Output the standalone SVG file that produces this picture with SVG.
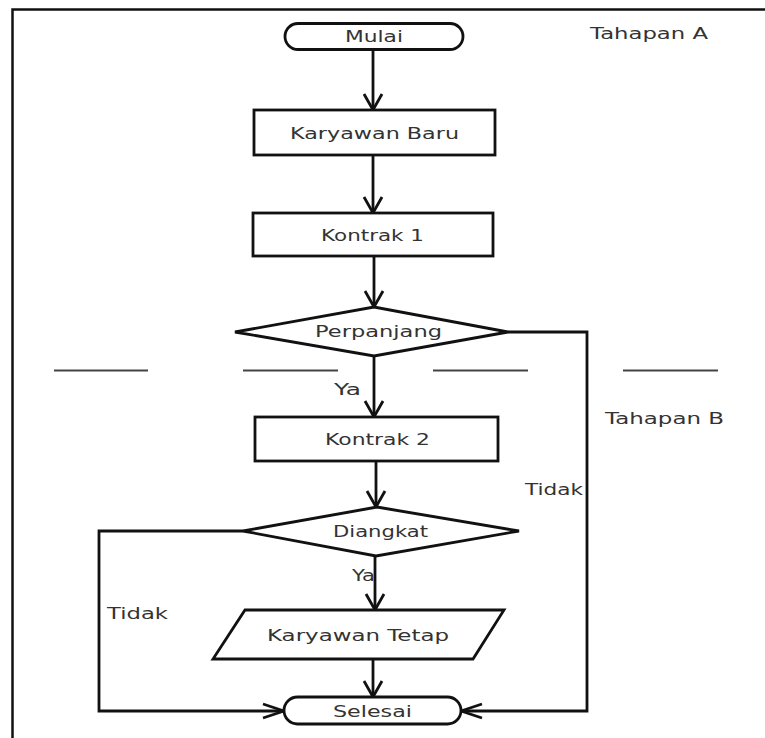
<svg xmlns="http://www.w3.org/2000/svg" width="765" height="738" viewBox="0 0 765 738">
<style>
.shape{fill:#fff;stroke:#111;stroke-width:2.8}
.conn{fill:none;stroke:#111;stroke-width:2.8}
.lbl{font-family:"DejaVu Sans","Liberation Sans",sans-serif;font-size:16.5px;fill:#333}
</style>
<defs>
<marker id="arrV" markerUnits="userSpaceOnUse" markerWidth="24" markerHeight="24" viewBox="-20 -12 24 24" refX="0" refY="0" orient="auto">
<path d="M-16,-9 L0,0 L-16,9" fill="none" stroke="#111" stroke-width="2.8"/>
</marker>
<marker id="arrH" markerUnits="userSpaceOnUse" markerWidth="26" markerHeight="20" viewBox="-24 -10 26 20" refX="0" refY="0" orient="auto">
<path d="M-21,-7 L0,0 L-21,7" fill="none" stroke="#111" stroke-width="2.8"/>
</marker>
</defs>
<rect width="765" height="738" fill="#fff"/>
<rect x="12.5" y="9.5" width="800" height="800" fill="none" stroke="#111" stroke-width="2.5"/>
<path d="M54,370.5H148M243,370.5H338M433,370.5H528M623,370.5H718" stroke="#444" stroke-width="2.2" fill="none"/>
<g id="connectors">
<path class="conn" d="M373,49V110" marker-end="url(#arrV)"/>
<path class="conn" d="M373,155V213" marker-end="url(#arrV)"/>
<path class="conn" d="M374,256V307" marker-end="url(#arrV)"/>
<path class="conn" d="M374,356V417" marker-end="url(#arrV)"/>
<path class="conn" d="M508,332H587V711H461" marker-end="url(#arrH)"/>
<path class="conn" d="M376,461V507" marker-end="url(#arrV)"/>
<path class="conn" d="M375,556V610" marker-end="url(#arrV)"/>
<path class="conn" d="M243,531H99V711H284" marker-end="url(#arrH)"/>
<path class="conn" d="M373,659V697" marker-end="url(#arrV)"/>
<text class="lbl" x="334" y="395" textLength="27" lengthAdjust="spacingAndGlyphs">Ya</text>
<text class="lbl" x="525" y="495" textLength="58" lengthAdjust="spacingAndGlyphs">Tidak</text>
<text class="lbl" x="352" y="581" textLength="23" lengthAdjust="spacingAndGlyphs">Ya</text>
<text class="lbl" x="107" y="619" textLength="61" lengthAdjust="spacingAndGlyphs">Tidak</text>
</g>
<g id="tahapanA"><text class="lbl" x="590" y="39" textLength="118" lengthAdjust="spacingAndGlyphs">Tahapan A</text></g>
<g id="tahapanB"><text class="lbl" x="605" y="424" textLength="119" lengthAdjust="spacingAndGlyphs">Tahapan B</text></g>
<g id="mulai">
<rect class="shape" x="285" y="23.5" width="178" height="26" rx="13"/>
<text class="lbl" x="345" y="41.5" textLength="58" lengthAdjust="spacingAndGlyphs">Mulai</text>
</g>
<g id="karyawanBaru">
<rect class="shape" x="254" y="110" width="241" height="45"/>
<text class="lbl" x="290" y="139" textLength="169" lengthAdjust="spacingAndGlyphs">Karyawan Baru</text>
</g>
<g id="kontrak1">
<rect class="shape" x="253" y="213" width="240" height="43"/>
<text class="lbl" x="321" y="241" textLength="103" lengthAdjust="spacingAndGlyphs">Kontrak 1</text>
</g>
<g id="perpanjang">
<polygon class="shape" points="235,332 374,307 508,332 374,356"/>
<text class="lbl" x="315" y="337" textLength="127" lengthAdjust="spacingAndGlyphs">Perpanjang</text>
</g>
<g id="kontrak2">
<rect class="shape" x="255" y="417" width="243" height="44"/>
<text class="lbl" x="325" y="445" textLength="105" lengthAdjust="spacingAndGlyphs">Kontrak 2</text>
</g>
<g id="diangkat">
<polygon class="shape" points="243,531 377,507 519,531 376,556"/>
<text class="lbl" x="333" y="537" textLength="95" lengthAdjust="spacingAndGlyphs">Diangkat</text>
</g>
<g id="karyawanTetap">
<polygon class="shape" points="245,610 504,610 473,659 213,659"/>
<text class="lbl" x="267" y="641" textLength="182" lengthAdjust="spacingAndGlyphs">Karyawan Tetap</text>
</g>
<g id="selesai">
<rect class="shape" x="284" y="697" width="177" height="27" rx="13.5"/>
<text class="lbl" x="333" y="717" textLength="79" lengthAdjust="spacingAndGlyphs">Selesai</text>
</g>
</svg>
